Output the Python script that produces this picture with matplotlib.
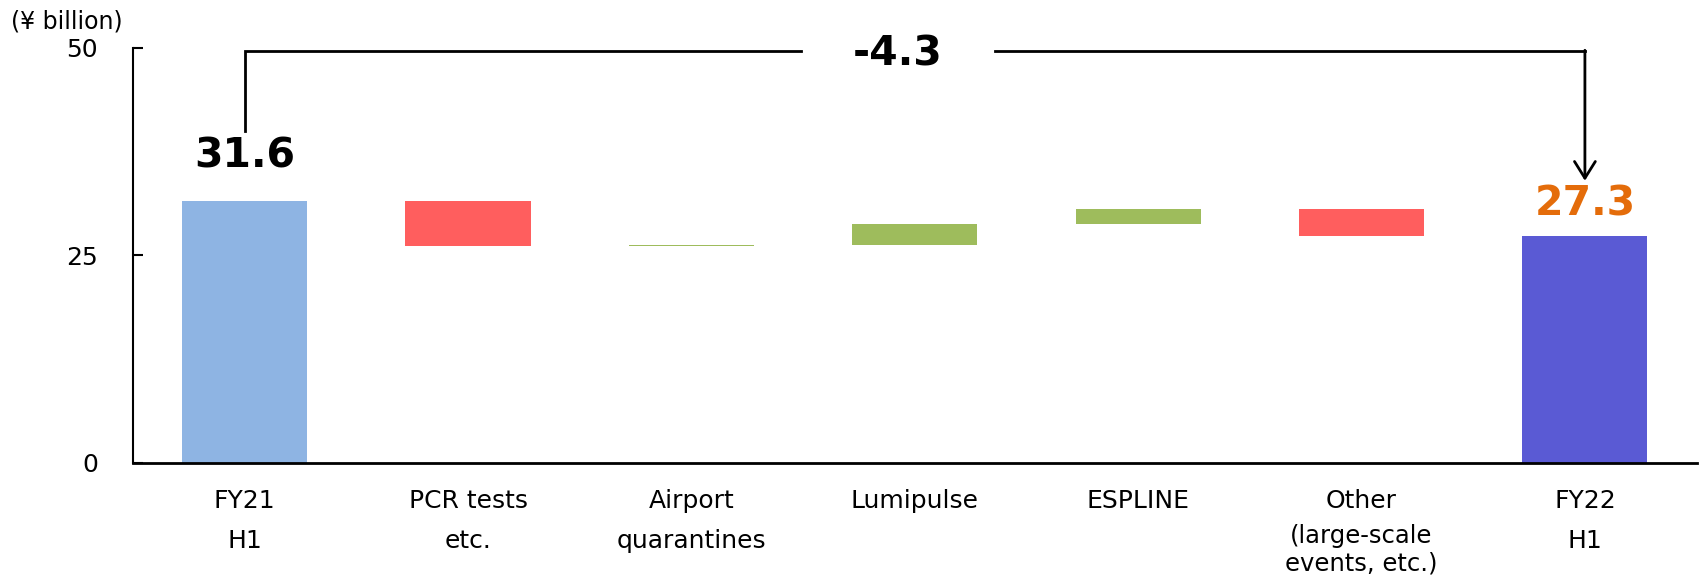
import matplotlib

matplotlib.use("Agg")
import matplotlib.pyplot as plt
import numpy as np

# Sales bridge, FY21 H1 -> FY22 H1 (¥ billion)
categories = ["FY21\nH1", "PCR tests\netc.", "Airport\nquarantines", "Lumipulse",
              "ESPLINE", "Other\n(large-scale\nevents, etc.)", "FY22\nH1"]
start_value = 31.6
changes = [-5.5, 0.2, 2.5, 1.8, -3.3]
end_value = 27.3
total_change = -4.3
y_ticks = [0, 25, 50]

BLUE_START = "#8EB4E3"
BLUE_END = "#5A5AD4"
RED = "#FF5E5E"
GREEN = "#9EBC5C"
ORANGE = "#E46C0A"

# floating segments of the waterfall
levels = np.concatenate([[start_value], start_value + np.cumsum(changes)])
bottoms = [0.0]
heights = [start_value]
colors = [BLUE_START]
for prev, cur, d in zip(levels[:-1], levels[1:], changes):
    bottoms.append(min(prev, cur))
    heights.append(abs(d))
    colors.append(GREEN if d > 0 else RED)
bottoms.append(0.0)
heights.append(end_value)
colors.append(BLUE_END)

x = np.arange(len(categories))

fig = plt.figure(figsize=(17, 5.78), dpi=100)
ax = fig.add_axes([0.0782, 0.199, 0.9198, 0.718])

ax.bar(x, heights, bottom=bottoms, width=0.56, color=colors, linewidth=0)

ax.set_xlim(-0.5, 6.5)
ax.set_ylim(0, 50)
ax.set_yticks(y_ticks)
ax.tick_params(axis="y", direction="in", length=7, width=1.5, labelsize=18, pad=25)

# two-line labels as tick labels; a third line and beyond goes in a smaller block below
tick_labels = []
notes = []
for i, lab in enumerate(categories):
    parts = lab.split("\n")
    if len(parts) > 2:
        tick_labels.append(parts[0])
        notes.append((i, "\n".join(parts[1:])))
    else:
        tick_labels.append(lab)
ax.set_xticks(x)
ax.set_xticklabels(tick_labels, fontsize=18, linespacing=1.84)
ax.tick_params(axis="x", length=0, pad=19)
for i, note in notes:
    ax.text(x[i], -0.147, note, transform=ax.get_xaxis_transform(), ha="center", va="top",
            fontsize=17.5, linespacing=1.2)

for side in ["top", "right"]:
    ax.spines[side].set_visible(False)
ax.spines["left"].set_linewidth(1.5)
ax.spines["bottom"].set_linewidth(2)

fig.text(67 / 1700, 1 - 22 / 578, "(¥ billion)", fontsize=17, ha="center", va="center")

# value labels on the two totals
ax.annotate(f"{start_value}", (x[0], start_value), xytext=(0, 32), textcoords="offset points",
            ha="center", va="center", fontsize=29.5, fontweight="bold", color="black")
ax.annotate(f"{end_value}", (x[-1], end_value), xytext=(0, 23), textcoords="offset points",
            ha="center", va="center", fontsize=29.5, fontweight="bold", color=ORANGE)

# bracket with the overall change
top_y = 49.6
gap_left, gap_right = 2.49, 3.36
ax.plot([x[0], x[0], gap_left], [40.0, top_y, top_y], color="black", lw=2, clip_on=False,
        solid_joinstyle="miter")
ax.plot([gap_right, x[-1]], [top_y, top_y], color="black", lw=2, clip_on=False,
        solid_joinstyle="miter")
ax.annotate("", xy=(x[-1], 34.0), xytext=(x[-1], top_y + 0.12),
            arrowprops=dict(arrowstyle="->,head_length=1.2,head_width=0.75", color="black", lw=2,
                            shrinkA=0, shrinkB=0))
ax.annotate(f"{total_change}", ((gap_left + gap_right) / 2, top_y), xytext=(0, -2),
            textcoords="offset points", ha="center", va="center",
            fontsize=29.5, fontweight="bold")

fig.savefig("out.png", dpi=100)
